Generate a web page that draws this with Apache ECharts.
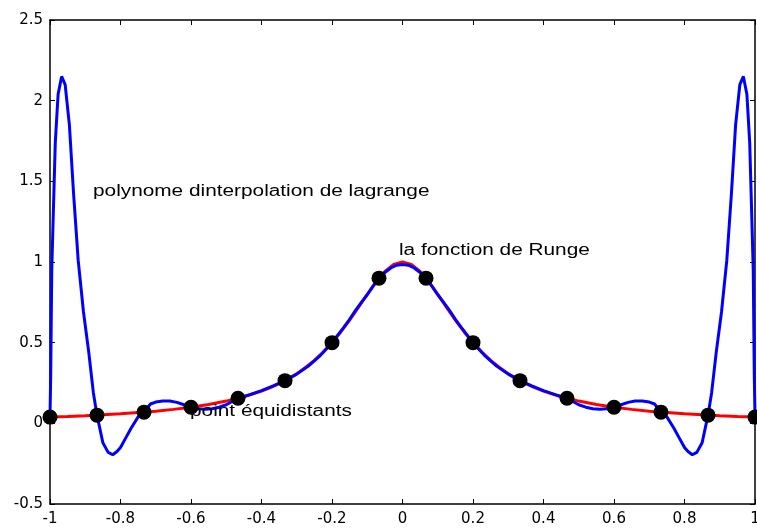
<!DOCTYPE html>
<html>
<head>
<meta charset="utf-8">
<script src="https://cdn.jsdelivr.net/npm/echarts@6/dist/echarts.min.js"></script>
<style>html,body{margin:0;padding:0;background:#fff;}#c{width:757px;height:530px;}</style>
</head>
<body>
<div id="c"></div>
<script>
// Runge function (red)
var rungeX = [-1,-0.95,-0.9,-0.85,-0.8,-0.75,-0.7,-0.65,-0.6,-0.55,-0.5,-0.45,-0.4,-0.375,-0.35,-0.325,-0.3,-0.275,-0.25,-0.225,-0.2,-0.175,-0.15,-0.125,-0.1,-0.075,-0.05,-0.025,0,
              0.025,0.05,0.075,0.1,0.125,0.15,0.175,0.2,0.225,0.25,0.275,0.3,0.325,0.35,0.375,0.4,0.45,0.5,0.55,0.6,0.65,0.7,0.75,0.8,0.85,0.9,0.95,1];
var rungeY = [0.0385,0.0424,0.0471,0.0525,0.0588,0.0664,0.0755,0.0865,0.1,0.1168,0.1379,0.1649,0.2,0.2215,0.2462,0.2747,0.3077,0.3459,0.3902,0.4414,0.5,0.5664,0.64,0.7191,0.8,0.8767,0.9412,0.9846,1,
              0.9846,0.9412,0.8767,0.8,0.7191,0.64,0.5664,0.5,0.4414,0.3902,0.3459,0.3077,0.2747,0.2462,0.2215,0.2,0.1649,0.1379,0.1168,0.1,0.0865,0.0755,0.0664,0.0588,0.0525,0.0471,0.0424,0.0385];

// Lagrange interpolation polynomial (blue)
var lagX = [-1,-0.998,-0.995,-0.99,-0.985,-0.977,-0.967,-0.957,-0.945,-0.933,-0.92,-0.905,-0.89,-0.877,-0.8667,-0.85,-0.835,-0.822,-0.81,-0.8,-0.785,-0.77,-0.75,-0.7333,-0.715,-0.7,-0.68,-0.66,-0.64,-0.62,-0.6,-0.58,-0.56,-0.54,-0.52,-0.5,-0.4667,-0.433,-0.4,-0.3667,-0.3333,-0.3,-0.267,-0.2333,-0.2,-0.1667,-0.15,-0.1333,-0.1167,-0.1,-0.0833,-0.0667,-0.05,-0.0333,-0.0167,0,
            0.0167,0.0333,0.05,0.0667,0.0833,0.1,0.1167,0.1333,0.15,0.1667,0.2,0.2333,0.267,0.3,0.3333,0.3667,0.4,0.433,0.4667,0.5,0.52,0.54,0.56,0.58,0.6,0.62,0.64,0.66,0.68,0.7,0.715,0.7333,0.75,0.77,0.785,0.8,0.81,0.822,0.835,0.85,0.8667,0.877,0.89,0.905,0.92,0.933,0.945,0.957,0.967,0.977,0.985,0.99,0.995,0.998,1];
var lagY = [0.0385,0.3,0.95,1.35,1.74,2.04,2.15,2.10,1.85,1.42,1.01,0.69,0.44,0.19,0.0506,-0.12,-0.18,-0.195,-0.175,-0.15,-0.09,-0.03,0.04,0.0692,0.12,0.132,0.139,0.138,0.13,0.115,0.1,0.09,0.087,0.09,0.1,0.115,0.1552,0.178,0.203,0.232,0.2647,0.305,0.355,0.42,0.5,0.595,0.645,0.70,0.75,0.797,0.85,0.9,0.935,0.963,0.98,0.985,
            0.98,0.963,0.935,0.9,0.85,0.797,0.75,0.70,0.645,0.595,0.5,0.42,0.355,0.305,0.2647,0.232,0.203,0.178,0.1552,0.115,0.1,0.09,0.087,0.09,0.1,0.115,0.13,0.138,0.139,0.132,0.12,0.0692,0.04,-0.03,-0.09,-0.15,-0.175,-0.195,-0.18,-0.12,0.0506,0.19,0.44,0.69,1.01,1.42,1.85,2.10,2.15,2.04,1.74,1.35,0.95,0.3,0.0385];

// equidistant nodes
var nodeX = [-1,-0.8667,-0.7333,-0.6,-0.4667,-0.3333,-0.2,-0.0667,0.0667,0.2,0.3333,0.4667,0.6,0.7333,0.8667,1];
var nodeY = [0.0385,0.0506,0.0692,0.1,0.1552,0.2647,0.5,0.9,0.9,0.5,0.2647,0.1552,0.1,0.0692,0.0506,0.0385];

// axis ticks
var xTicks = {min: -1, max: 1, interval: 0.2};
var yTicks = {min: -0.5, max: 2.5, interval: 0.5};

// annotations
var labels = [
  {text: 'polynome dinterpolation de lagrange', x: 93, y: 192},
  {text: 'la fonction de Runge', x: 399, y: 251},
  {text: 'point équidistants', x: 190, y: 412}
];

function pairs(xs, ys) { return xs.map(function (v, i) { return [v, ys[i]]; }); }

var chart = echarts.init(document.getElementById('c'), null, {renderer: 'canvas'});
var axisLine = {show: true, onZero: false, lineStyle: {color: '#000', width: 1.5}};
var tickIn = {show: true, inside: true, length: 5, lineStyle: {color: '#000', width: 1}};
var labelStyle = {color: '#000', fontSize: 15, fontFamily: 'DejaVu Sans'};
chart.setOption({
  animation: false,
  backgroundColor: '#fff',
  grid: {left: 50, right: 2, top: 20, bottom: 26, containLabel: false, outerBoundsMode: 'none'},
  xAxis: [
    {type: 'value', position: 'bottom', min: xTicks.min, max: xTicks.max, interval: xTicks.interval,
     axisLine: axisLine, axisTick: tickIn, splitLine: {show: false},
     axisLabel: Object.assign({margin: 8, showMinLabel: true, showMaxLabel: true}, labelStyle)},
    {type: 'value', position: 'top', min: xTicks.min, max: xTicks.max, interval: xTicks.interval,
     axisLine: axisLine, axisTick: tickIn, splitLine: {show: false}, axisLabel: {show: false}}
  ],
  yAxis: [
    {type: 'value', position: 'left', min: yTicks.min, max: yTicks.max, interval: yTicks.interval,
     axisLine: axisLine, axisTick: tickIn, splitLine: {show: false},
     axisLabel: Object.assign({margin: 7}, labelStyle)},
    {type: 'value', position: 'right', min: yTicks.min, max: yTicks.max, interval: yTicks.interval,
     axisLine: axisLine, axisTick: tickIn, splitLine: {show: false}, axisLabel: {show: false}}
  ],
  series: [
    {name: 'Runge', type: 'line', data: pairs(rungeX, rungeY), showSymbol: false, clip: false,
     lineStyle: {color: '#ff0000', width: 3}, z: 2},
    {name: 'Lagrange', type: 'line', data: pairs(lagX, lagY), showSymbol: false, clip: false,
     lineStyle: {color: '#0000ff', width: 3}, z: 3},
    {name: 'points', type: 'scatter', data: pairs(nodeX, nodeY), symbol: 'circle', symbolSize: 15,
     itemStyle: {color: '#000', opacity: 1}, clip: false, z: 4}
  ],
  graphic: labels.map(function (l) {
    return {type: 'text', x: l.x, y: l.y, scaleX: 1.3, z: 10,
      style: {text: l.text, fill: '#000', fontSize: 16, fontFamily: 'Liberation Sans, Arial, sans-serif',
              align: 'left', verticalAlign: 'middle'}};
  })
});
</script>
</body>
</html>
